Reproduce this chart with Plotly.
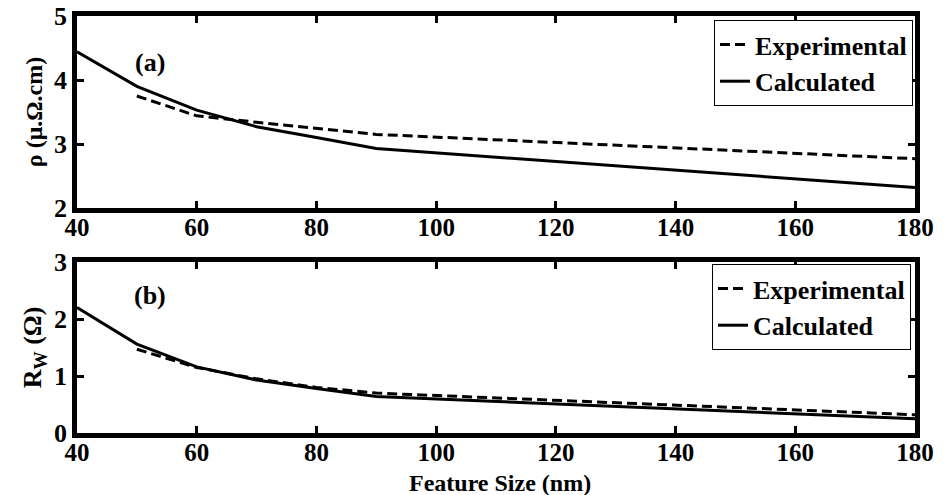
import plotly.graph_objects as go

# Feature sizes (nm)
calc_size = [40, 50, 60, 70, 80, 90, 180]
exp_size = [50, 60, 70, 90, 180]

# (a) resistivity, micro-ohm cm
rho_calc = [4.44, 3.90, 3.53, 3.27, 3.10, 2.93, 2.32]
rho_exp = [3.75, 3.44, 3.34, 3.15, 2.77]

# (b) wire resistance, ohm
rw_exp_size = [50, 60, 70, 80, 90, 180]
rw_calc = [2.20, 1.56, 1.16, 0.93, 0.78, 0.64, 0.25]
rw_exp = [1.47, 1.15, 0.95, 0.80, 0.70, 0.32]

x_ticks = [40, 60, 80, 100, 120, 140, 160, 180]

FONT = "Liberation Serif"
DASH = "10px,5px"
LW = 3
W, H = 946, 495


def bold(size):
    return dict(family=FONT, size=size, color="black", weight="bold")


def py(px):
    """Pixel row from the top -> paper fraction."""
    return 1 - px / H


fig = go.Figure()

fig.add_trace(go.Scatter(x=exp_size, y=rho_exp, mode="lines", name="Experimental",
                         line=dict(color="black", width=LW, dash=DASH),
                         xaxis="x", yaxis="y", legend="legend"))
fig.add_trace(go.Scatter(x=calc_size, y=rho_calc, mode="lines", name="Calculated",
                         line=dict(color="black", width=LW),
                         xaxis="x", yaxis="y", legend="legend"))
fig.add_trace(go.Scatter(x=rw_exp_size, y=rw_exp, mode="lines", name="Experimental",
                         line=dict(color="black", width=LW, dash=DASH),
                         xaxis="x2", yaxis="y2", legend="legend2"))
fig.add_trace(go.Scatter(x=calc_size, y=rw_calc, mode="lines", name="Calculated",
                         line=dict(color="black", width=LW),
                         xaxis="x2", yaxis="y2", legend="legend2"))
# empty traces hosting the tick-label axes that sit just under each frame
fig.add_trace(go.Scatter(x=[], y=[], xaxis="x3", yaxis="y", showlegend=False, hoverinfo="skip"))
fig.add_trace(go.Scatter(x=[], y=[], xaxis="x4", yaxis="y2", showlegend=False, hoverinfo="skip"))

axis_common = dict(
    showline=True, linecolor="black", linewidth=4.5, mirror="ticks",
    ticks="inside", ticklen=7, tickwidth=3, tickcolor="black",
    showgrid=False, zeroline=False, automargin=False,
)

label_axis = dict(
    range=[40, 180], tickvals=x_ticks, tickfont=bold(25), anchor="free",
    showline=False, ticks="", showgrid=False, zeroline=False, automargin=False,
)

x_dom = [77 / W, 915 / W]

fig.update_layout(
    width=W, height=H,
    margin=dict(l=0, r=0, t=0, b=0),
    paper_bgcolor="white", plot_bgcolor="white",
    font=dict(family=FONT, color="black"),
    xaxis=dict(domain=x_dom, anchor="y", range=[40, 180], tickvals=x_ticks,
               showticklabels=False, **axis_common),
    yaxis=dict(domain=[py(208), py(16)], anchor="x", range=[2, 5],
               tickvals=[2, 3, 4, 5], tickfont=bold(26),
               title=dict(text="ρ (μ.Ω.cm)", standoff=6, font=bold(24)),
               **axis_common),
    xaxis2=dict(domain=x_dom, anchor="y2", range=[40, 180], tickvals=x_ticks,
                showticklabels=False, **axis_common),
    yaxis2=dict(domain=[py(433), py(262)], anchor="x2", range=[0, 3],
                tickvals=[0, 1, 2, 3], tickfont=bold(26),
                title=dict(text="R<sub>W</sub> (Ω)", standoff=6, font=bold(26)),
                **axis_common),
    xaxis3=dict(overlaying="x", position=py(210), **label_axis),
    xaxis4=dict(overlaying="x2", position=py(435), **label_axis),
    legend=dict(x=913 / W, y=py(20), xanchor="right", yanchor="top",
                bgcolor="white", bordercolor="black", borderwidth=1,
                font=bold(26), tracegroupgap=0, itemwidth=30),
    legend2=dict(x=911 / W, y=py(264), xanchor="right", yanchor="top",
                 bgcolor="white", bordercolor="black", borderwidth=1,
                 font=bold(26), tracegroupgap=0, itemwidth=30),
    annotations=[
        dict(text="(a)", x=150 / W, y=py(62), xref="paper", yref="paper",
             xanchor="center", yanchor="middle", showarrow=False, font=bold(26)),
        dict(text="(b)", x=150 / W, y=py(295), xref="paper", yref="paper",
             xanchor="center", yanchor="middle", showarrow=False, font=bold(26)),
        dict(text="Feature Size (nm)", x=500 / W, y=0, yshift=-3,
             xref="paper", yref="paper", xanchor="center", yanchor="bottom",
             showarrow=False, font=bold(24)),
    ],
)

fig.write_html("out.html")
